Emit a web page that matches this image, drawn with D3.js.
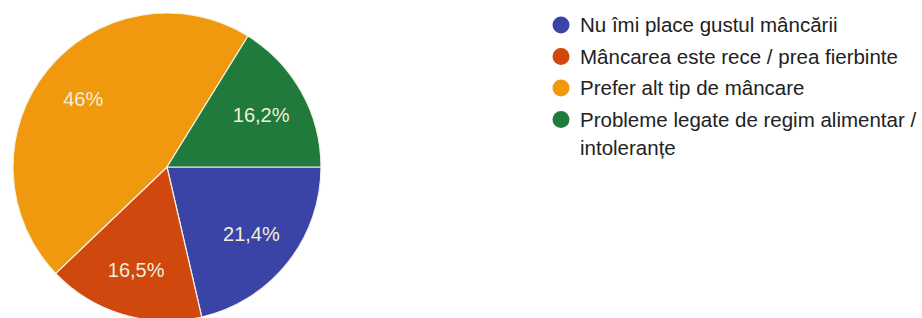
<!DOCTYPE html>
<html><head><meta charset="utf-8">
<script src="https://cdn.jsdelivr.net/npm/d3@7"></script>
<style>html,body{margin:0;padding:0;background:#fff;overflow:hidden}</style>
</head><body>
<svg id="chart" width="922" height="318"></svg>
<script>
const categories = ["Nu îmi place gustul mâncării", "Mâncarea este rece / prea fierbinte", "Prefer alt tip de mâncare", "Probleme legate de regim alimentar / intoleranțe"];
const legendLines = [["Nu îmi place gustul mâncării"], ["Mâncarea este rece / prea fierbinte"], ["Prefer alt tip de mâncare"], ["Probleme legate de regim alimentar /", "intoleranțe"]];
const values = [21.4, 16.5, 46, 16.2];
const valueLabels = ["21,4%", "16,5%", "46%", "16,2%"];
const colors = ["#3a44a6", "#d0480e", "#f0990f", "#1f7a3c"];

const svg = d3.select("#chart");
const cx = 167, cy = 167, r = 154;
const pie = d3.pie().sort(null).value(d => d).startAngle(Math.PI / 2).endAngle(Math.PI / 2 + 2 * Math.PI);
const arcs = pie(values);
const arc = d3.arc().innerRadius(0).outerRadius(r);
const labelArc = d3.arc().innerRadius(r * 0.7).outerRadius(r * 0.7);
const g = svg.append("g").attr("transform", `translate(${cx},${cy})`);
g.selectAll("path").data(arcs).join("path")
  .attr("d", arc).attr("fill", (d, i) => colors[i])
  .attr("stroke", "#f4f2e6").attr("stroke-width", 1.2);
g.selectAll("text").data(arcs).join("text")
  .attr("transform", d => `translate(${labelArc.centroid(d)})`)
  .attr("text-anchor", "middle").attr("dy", "0.36em")
  .attr("font-family", "Liberation Sans, Arial, sans-serif").attr("font-size", 20)
  .attr("fill", "#f3efd8")
  .text((d, i) => valueLabels[i]);

const lg = svg.append("g").attr("font-family", "Liberation Sans, Arial, sans-serif").attr("font-size", 20.5).attr("fill", "#222");
const rowY = d3.scaleLinear().domain([0, 1]).range([25, 56.5]);
legendLines.forEach((lines, i) => {
  const y = rowY(i);
  lg.append("circle").attr("cx", 561).attr("cy", y).attr("r", 8.5).attr("fill", colors[i]);
  lines.forEach((t, j) => {
    lg.append("text").attr("x", 580).attr("y", y + j * 28).attr("dy", "0.36em").text(t);
  });
});
</script>
</body></html>
